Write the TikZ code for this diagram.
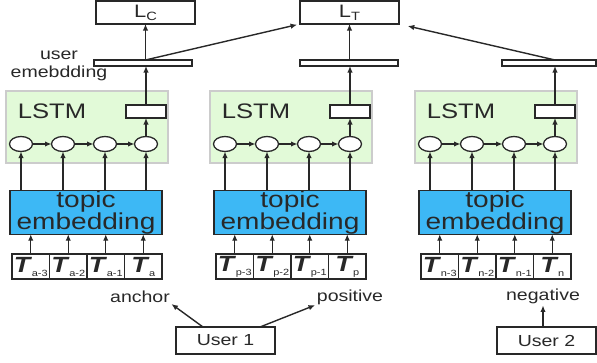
\documentclass[tikz,border=0pt]{standalone}
\usepackage{fontspec}
\setmainfont{Liberation Sans}[FakeStretch=1.22]
\usetikzlibrary{arrows.meta,shapes.geometric,calc}
\definecolor{lstmgreen}{RGB}{226,250,216}
\definecolor{topicblue}{RGB}{61,184,245}
\definecolor{ln}{RGB}{40,40,40}
\newcommand{\tok}[1]{{\fontsize{22}{22}\selectfont\bfseries\itshape T}\hspace{1.5pt}\raisebox{-4pt}{\fontsize{9}{9}\selectfont #1}}
\begin{document}
\begin{tikzpicture}[x=1pt,y=-1pt,
  every node/.style={inner sep=0pt, outer sep=0pt, text=ln},
  arr/.style={-{Latex[length=6.5pt,width=5.5pt]}, draw=ln, line width=1.4pt},
  lossbox/.style={draw=ln, line width=1.3pt, fill=white, minimum width=99pt, minimum height=23pt, font=\fontsize{18}{18}\selectfont},
  barbox/.style={draw=ln, line width=1.2pt, fill=white, minimum height=6pt},
  lstmbox/.style={draw=gray!40, line width=1.2pt, fill=lstmgreen, minimum width=162pt, minimum height=72pt},
  outbox/.style={draw=ln, line width=1.3pt, fill=white, minimum width=40pt, minimum height=13pt},
  cell/.style={ellipse, draw=ln, line width=1.3pt, fill=white, minimum width=23pt, minimum height=15pt},
  topicbox/.style={draw=ln, line width=1.3pt, fill=topicblue, minimum width=152pt, minimum height=41pt, align=center, font=\fontsize{23}{22}\selectfont},
  tokbox/.style={draw=ln, line width=1.3pt, fill=white, minimum width=37.5pt, minimum height=25pt},
  userbox/.style={draw=ln, line width=1.3pt, fill=white, minimum width=99pt, minimum height=27pt, font=\fontsize{16}{16}\selectfont},
  lbl/.style={font=\fontsize{16}{18}\selectfont, align=center}
]
\useasboundingbox (0,0) rectangle (597,362);

\foreach \g/\dx/\bx/\bw in {a/0/143/98, p/204/145/98, n/409/140/94} {
  \begin{scope}[xshift=\dx pt]
    \node[lstmbox] (G\g) at (87,127) {};
    \node[font=\fontsize{21}{21}\selectfont] (L\g) at (52,111) {LSTM};
    \node[outbox] (O\g) at (146,111.5) {};
    \foreach \i/\cx in {1/21,2/63,3/105,4/146}
      \node[cell] (c\g\i) at (\cx,144) {};
    \node[topicbox] (T\g) at (86,212.5) {topic\\embedding};
    \node[tokbox] (t\g1) at (30.75,266.5) {\tok{\g-3}};
    \node[tokbox] (t\g2) at (68.25,266.5) {\tok{\g-2}};
    \node[tokbox] (t\g3) at (105.75,266.5) {\tok{\g-1}};
    \node[tokbox] (t\g4) at (143.25,266.5) {\tok{\g}};
    \node[barbox, minimum width=\bw pt] (B\g) at (\bx,63) {};
  \end{scope}
  \foreach \i in {1,2,3,4} {
    \draw[arr] (t\g\i.north) -- (t\g\i.north |- T\g.south);
    \draw[arr] (c\g\i.south |- T\g.north) -- (c\g\i.south);
  }
  \draw[arr] (c\g1.east) -- (c\g2.west);
  \draw[arr] (c\g2.east) -- (c\g3.west);
  \draw[arr] (c\g3.east) -- (c\g4.west);
  \draw[arr] (c\g4.north) -- (O\g.south);
  \draw[arr] (O\g.north) -- (O\g.north |- B\g.south);
}

\node[lossbox] (LC) at (145.5,12.5) {L\raisebox{-3pt}{\fontsize{12}{12}\selectfont C}};
\node[lossbox] (LT) at (349.5,12.5) {L\raisebox{-3pt}{\fontsize{12}{12}\selectfont T}};
\node[lbl] (ue) at (59,66) {user\\emebdding};

\draw[arr] (LC.south |- Ba.north) -- (LC.south);
\draw[arr, shorten >=3pt] (LC.south |- Ba.north) -- (LT.south west);
\draw[arr] (LT.south |- Bp.north) -- (LT.south);
\draw[arr, shorten >=9pt] (On.north |- Bn.north) -- (LT.south east);

\node[userbox] (U1) at (225.5,340.5) {User 1};
\node[userbox] (U2) at (546.5,340.5) {User 2};
\node[lbl] (anc) at (140,297) {anchor};
\node[lbl] (pos) at (350,297) {positive};
\node[lbl] (neg) at (543,296) {negative};

\draw[arr, shorten >=2pt] ($(U1.north west)+(27,0)$) -- (anc.south east);
\draw[arr, shorten >=2pt] ($(U1.north west)+(84,0)$) -- (pos.south west);
\draw[arr, shorten >=2pt] (neg.south |- U2.north) -- (neg.south);
\end{tikzpicture}
\end{document}
